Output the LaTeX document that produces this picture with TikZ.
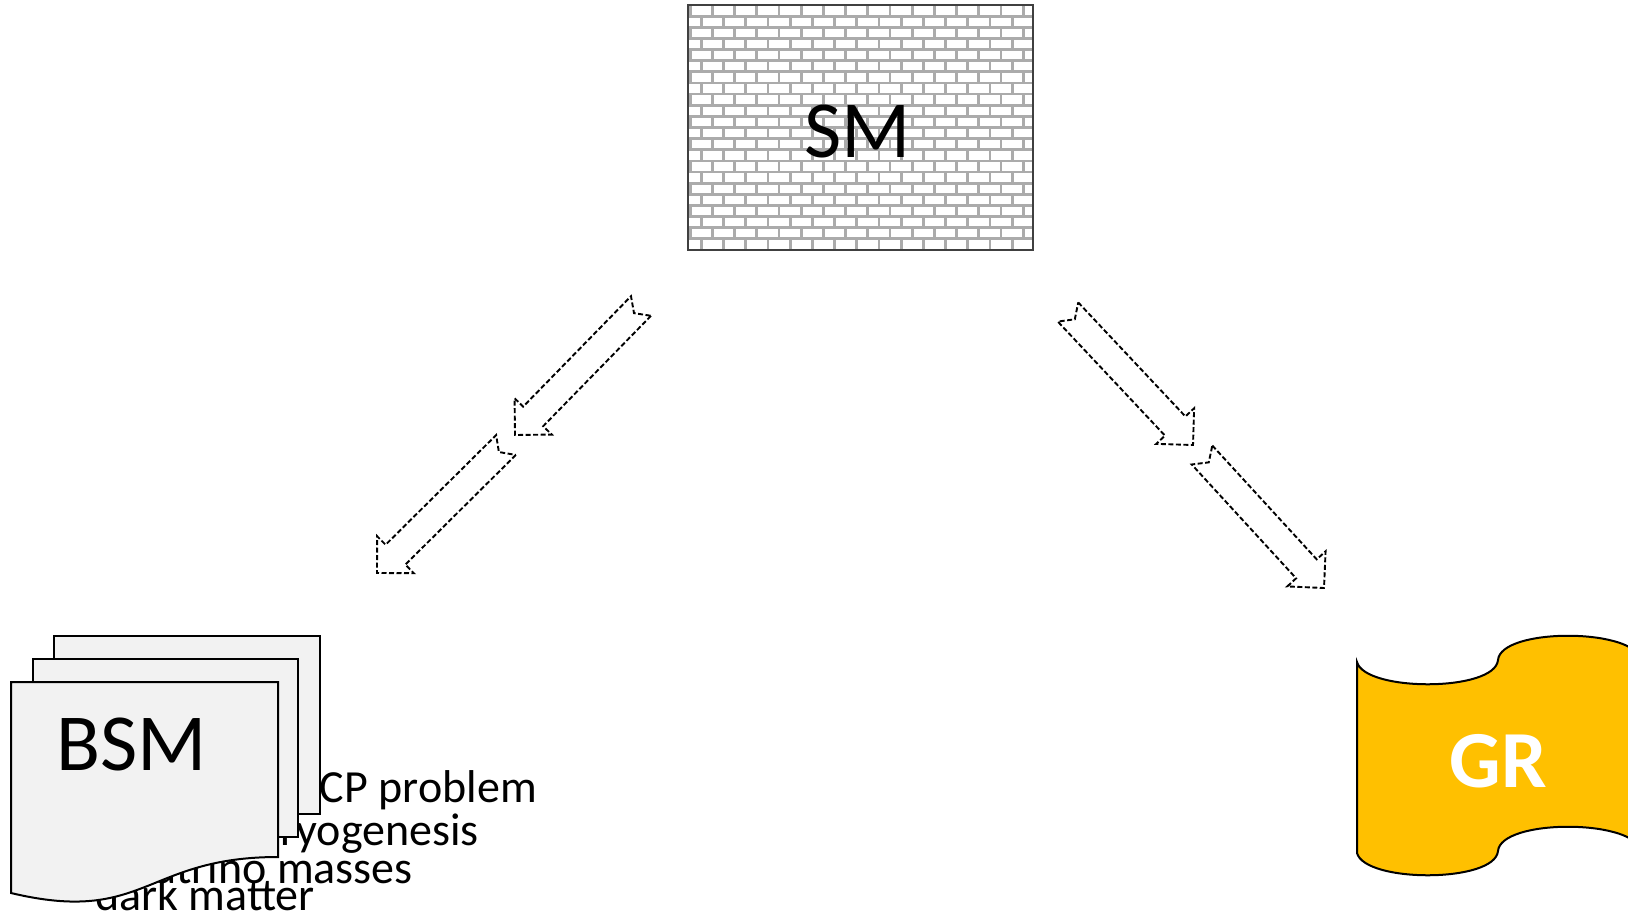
\documentclass[tikz,border=0pt]{standalone}
\usepackage{fontspec}
\setmainfont{Carlito}
\usetikzlibrary{calc}

\definecolor{mortargray}{HTML}{ABABAB}
\definecolor{boxgray}{HTML}{404040}
\definecolor{pagegray}{HTML}{F2F2F2}
\definecolor{grgold}{HTML}{FFC000}

\tikzset{
  bigtext/.style={inner sep=0pt, font=\fontsize{81}{97}\selectfont},
  listtext/.style={inner sep=0pt, anchor=base east, font=\fontsize{46}{46}\selectfont},
  page/.style={draw=black, line width=2pt, fill=pagegray},
  mortar/.style={draw=mortargray, line width=2.8pt},
  flowarrow/.style={draw=black, line width=1.9pt, dash pattern=on 5pt off 2.5pt},
}

% notched block arrow from tail #1 to tip #2
\newcommand\notcharrow[2]{%
  \draw[flowarrow] ($(#1)!14pt!90:(#2)$)
    -- ($(#2)!26pt!(#1)!14pt!90:(#2)$)
    -- ($(#2)!26pt!(#1)!26pt!90:(#2)$)
    -- (#2)
    -- ($(#2)!26pt!(#1)!26pt!-90:(#2)$)
    -- ($(#2)!26pt!(#1)!14pt!-90:(#2)$)
    -- ($(#1)!14pt!-90:(#2)$)
    -- ($(#1)!10pt!(#2)$) -- cycle;}

\begin{document}
\begin{tikzpicture}[x=1pt,y=-1pt]
\useasboundingbox (0,0) rectangle (1628,918);

% arrows
\coordinate (bsmtail1) at (641,306);
\coordinate (bsmtip1) at (515,435);
\coordinate (bsmtail2) at (506,445);
\coordinate (bsmtip2) at (377,573);
\coordinate (grtail1) at (1068,312);
\coordinate (grtip1) at (1193,445);
\coordinate (grtail2) at (1202,455);
\coordinate (grtip2) at (1324,588);
\notcharrow{bsmtail1}{bsmtip1}
\notcharrow{bsmtail2}{bsmtip2}
\notcharrow{grtail1}{grtip1}
\notcharrow{grtail2}{grtip2}

% SM brick wall
\begin{scope}
\clip (688,5) rectangle (1033,250);
\fill[white] (688,5) rectangle (1033,250);
\foreach \r in {0,...,21} {
  \pgfmathsetmacro\yt{5+\r*11.136}
  \draw[mortar] (688,\yt) -- (1033,\yt);
  \foreach \c in {-1,...,15} {
    \pgfmathsetmacro\xx{690.2+11.1*mod(\r,2)+\c*22.2}
    \draw[mortar] (\xx,\yt) -- (\xx,{\yt+11.136});
  }
}
\end{scope}
\node[draw=boxgray, line width=2pt, inner sep=0pt,
  minimum width=345pt, minimum height=245pt] (smbox) at (860.5,127.5) {};
\node[bigtext, anchor=base] (sm) at (858,157) {SM};

% BSM list, partly hidden by the pages
\node[listtext] (strongcp) at (537,802) {strong CP problem};
\node[listtext] (baryo) at (479,845) {baryogenesis};
\node[listtext] (numass) at (413,883) {neutrino masses};
\node[listtext] (dm) at (315,910) {dark matter};

% BSM pages
\draw[page] (54,636) rectangle (320,814);
\draw[page] (33,659) rectangle (298,837);
\draw[page] (11,682) -- (278,682) -- (278,857)
  .. controls (145,857) and (145,925) .. (11,893) -- cycle;
\node[bigtext, anchor=base west] (bsm) at (56,770) {BSM};

% GR flag
\draw[fill=grgold, line width=2pt] (1357,662)
  .. controls (1365,692) and (1495,692) .. (1498,660)
  .. controls (1501,628) and (1630,628) .. (1640,658)
  -- (1640,849)
  .. controls (1630,819) and (1501,819) .. (1498,851)
  .. controls (1495,883) and (1365,883) .. (1357,853) -- cycle;
\node[bigtext, anchor=base, text=white, font=\fontsize{81}{97}\selectfont\bfseries] (gr) at (1498,787) {GR};
\end{tikzpicture}
\end{document}
